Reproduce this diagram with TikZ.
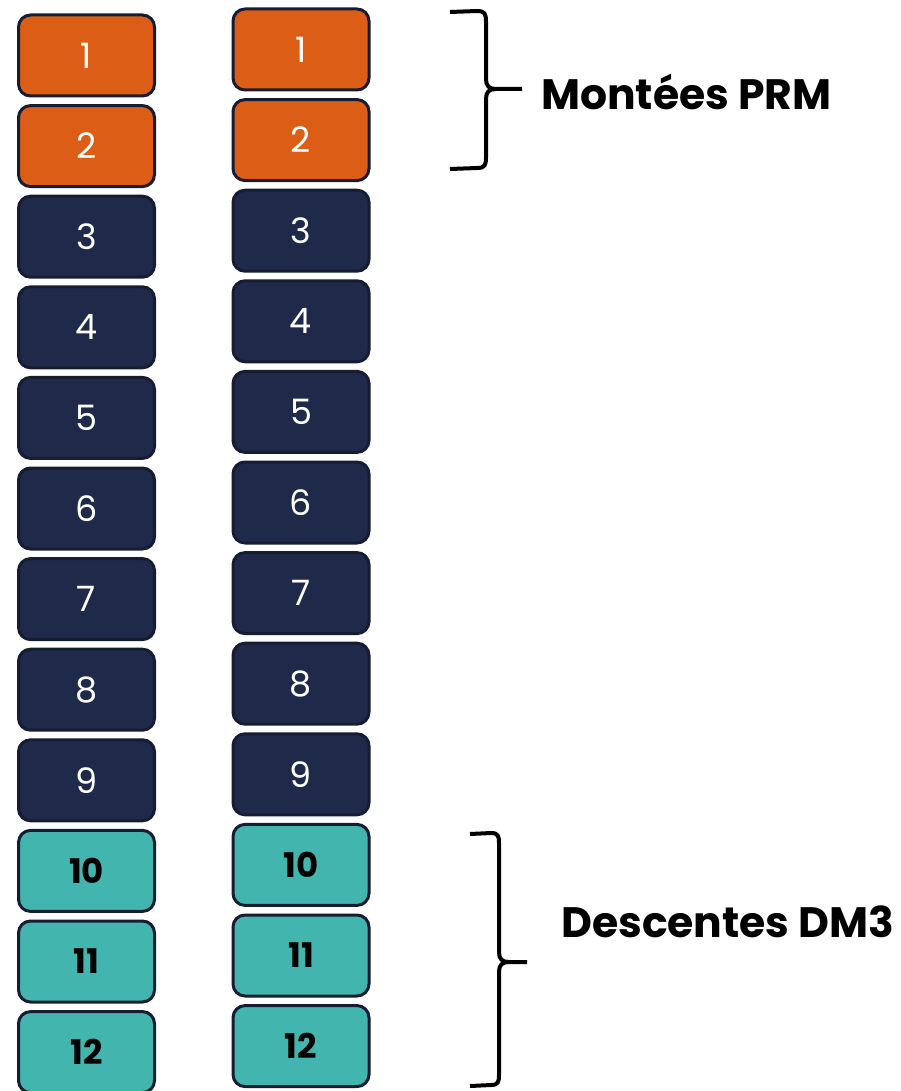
\documentclass[tikz,border=0pt]{standalone}
\usepackage{fontspec}
\setmainfont{Poppins}
\definecolor{prmorange}{HTML}{DC5E16}
\definecolor{quaynavy}{HTML}{1F2A4B}
\definecolor{dmteal}{HTML}{42B6AE}
\definecolor{slotedge}{HTML}{161D33}
\tikzstyle{slot} = [rectangle, rounded corners=12pt, minimum width=136pt, minimum height=81pt, text centered, draw=slotedge, line width=3pt, font=\fontsize{35}{35}\selectfont]
\tikzstyle{montee} = [slot, fill=prmorange, text=white]
\tikzstyle{normal} = [slot, fill=quaynavy, text=white]
\tikzstyle{descente} = [slot, fill=dmteal, text=black, font=\fontsize{34}{34}\selectfont\bfseries]
\tikzstyle{bracket} = [line width=4pt, black]
\tikzstyle{grouplabel} = [anchor=west, inner sep=0pt, font=\fontsize{42.5}{42.5}\selectfont\bfseries]

\begin{document}
\begin{tikzpicture}[x=1pt, y=-1pt, node distance=90.6pt]
        \useasboundingbox (0,0) rectangle (901,1091);

        % Left column
        \node (l1) [montee] at (86.5,55.5) {1};
        \node (l2) [montee, below of=l1] {2};
        \node (l3) [normal, below of=l2] {3};
        \node (l4) [normal, below of=l3] {4};
        \node (l5) [normal, below of=l4] {5};
        \node (l6) [normal, below of=l5] {6};
        \node (l7) [normal, below of=l6] {7};
        \node (l8) [normal, below of=l7] {8};
        \node (l9) [normal, below of=l8] {9};
        \node (l10) [descente, below of=l9] {10};
        \node (l11) [descente, below of=l10] {11};
        \node (l12) [descente, below of=l11] {12};

        % Right column
        \node (r1) [montee] at (301,49.5) {1};
        \node (r2) [montee, below of=r1] {2};
        \node (r3) [normal, below of=r2] {3};
        \node (r4) [normal, below of=r3] {4};
        \node (r5) [normal, below of=r4] {5};
        \node (r6) [normal, below of=r5] {6};
        \node (r7) [normal, below of=r6] {7};
        \node (r8) [normal, below of=r7] {8};
        \node (r9) [normal, below of=r8] {9};
        \node (r10) [descente, below of=r9] {10};
        \node (r11) [descente, below of=r10] {11};
        \node (r12) [descente, below of=r11] {12};

        % Braces
        \draw [bracket] (450,12) -- (477,11) .. controls (485,11) and (486,14) .. (486,22) -- (486,79) .. controls (486,86) and (489,89) .. (496,89) -- (522,89);
        \draw [bracket] (496,89) .. controls (489,89) and (486,92) .. (486,99) -- (486,157) .. controls (486,165) and (485,168) .. (477,168) -- (450,169);
        \draw [bracket] (470,834) -- (491,833) .. controls (498,833) and (499,836) .. (499,843) -- (499,952) .. controls (499,959) and (502,962) .. (509,962) -- (527,962);
        \draw [bracket] (509,962) .. controls (502,962) and (499,965) .. (499,972) -- (499,1075) .. controls (499,1082) and (498,1085) .. (491,1085) -- (470,1086);

        % Labels
        \node (prm) [grouplabel] at (541,92) {Montées PRM};
        \node (dm3) [grouplabel] at (561,922) {Descentes DM3};
\end{tikzpicture}
\end{document}
